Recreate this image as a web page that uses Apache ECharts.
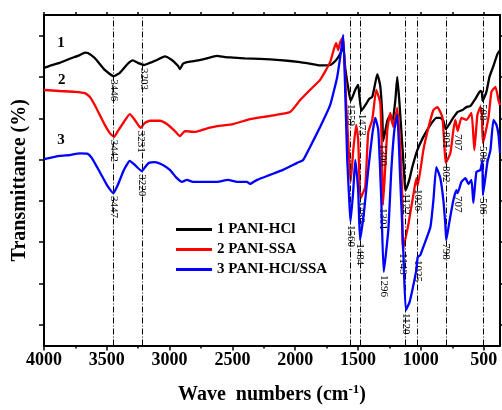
<!DOCTYPE html>
<html>
<head>
<meta charset="utf-8">
<script src="https://cdn.jsdelivr.net/npm/echarts@6/dist/echarts.min.js"></script>
<style>
  html, body { margin: 0; padding: 0; background: #fff; }
  #chart { width: 502px; height: 410px; }
</style>
</head>
<body>
<div id="chart"></div>
<script>
// FTIR spectra, [wavenumber (cm-1), transmittance (offset, a.u.)]
const curveHCl = [[4000,62.2],[3955,62.7],[3875,63.4],[3795,64.4],[3715,65.3],[3675,65.9],[3651,65.8],[3596,64.6],[3516,61.7],[3446,60.2],[3396,61.0],[3333,63.2],[3293,64.0],[3253,63.4],[3203,62.9],[3175,63.2],[3141,63.6],[3101,64.1],[3038,65.0],[2982,64.1],[2934,62.7],[2918,61.9],[2894,63.2],[2862,63.6],[2798,63.9],[2719,64.4],[2623,65.1],[2559,64.8],[2495,64.7],[2400,64.5],[2280,64.4],[2120,64.1],[1961,63.6],[1881,63.2],[1802,62.8],[1722,62.9],[1674,64.1],[1642,65.6],[1618,67.3],[1602,62.2],[1578,57.3],[1559,54.2],[1522,56.9],[1499,58.1],[1490,55.6],[1473,51.8],[1435,53.5],[1411,54.7],[1387,55.2],[1371,57.3],[1347,60.7],[1323,57.8],[1307,50.8],[1300,44.5],[1267,49.4],[1243,50.8],[1227,48.9],[1203,54.4],[1188,60.0],[1172,54.4],[1156,47.2],[1140,39.9],[1128,34.0],[1122,32.6],[1092,35.1],[1068,38.2],[1028,42.3],[980,45.5],[924,48.4],[877,50.1],[845,50.1],[821,49.4],[801,47.4],[773,48.6],[749,49.8],[709,51.5],[669,52.0],[637,52.7],[605,53.0],[566,54.7],[526,56.6],[515,56.4],[508,54.2],[478,56.4],[454,60.0],[422,62.7],[390,65.6],[370,66.5]];

const curveSSA = [[4000,56.85],[3875,56.6],[3755,56.4],[3675,56.1],[3636,55.2],[3596,53.2],[3556,50.8],[3516,48.4],[3476,46.4],[3442,45.5],[3412,46.9],[3364,49.1],[3317,51.0],[3277,49.6],[3231,47.7],[3197,48.9],[3157,49.4],[3077,49.4],[3022,48.6],[2958,46.9],[2918,45.7],[2878,46.9],[2798,46.7],[2719,47.4],[2623,48.1],[2495,48.6],[2360,49.8],[2200,50.6],[2041,51.5],[1961,54.4],[1881,56.9],[1802,59.3],[1722,63.6],[1690,67.0],[1674,68.2],[1658,66.5],[1642,68.5],[1618,69.7],[1594,53.2],[1570,39.9],[1559,34.6],[1538,42.3],[1515,48.4],[1499,44.8],[1490,36.3],[1480,30.7],[1443,33.4],[1419,46.5],[1387,49.6],[1355,56.9],[1323,53.7],[1310,41.6],[1301,29.0],[1267,47.2],[1243,51.3],[1219,47.9],[1188,52.5],[1164,43.1],[1150,32.6],[1143,18.1],[1100,24.2],[1084,27.1],[1060,31.4],[1036,35.5],[1026,33.6],[980,42.3],[940,47.7],[900,52.0],[869,52.7],[829,50.3],[812,43.1],[802,39.2],[765,41.6],[741,47.2],[725,49.6],[707,46.9],[677,50.1],[637,49.6],[597,51.3],[574,42.3],[550,50.8],[526,52.7],[515,51.3],[506,44.0],[462,50.1],[438,56.4],[406,57.6],[382,54.4],[370,53.2]];

const curveMixed = [[4000,40.1],[3875,40.9],[3795,41.1],[3715,41.5],[3651,41.4],[3620,40.4],[3556,37.0],[3500,33.9],[3447,31.9],[3412,33.9],[3364,37.5],[3317,39.7],[3277,38.7],[3220,37.2],[3195,38.2],[3165,39.2],[3117,39.4],[3054,38.7],[2998,37.5],[2942,35.5],[2902,34.6],[2862,35.1],[2814,34.6],[2719,34.6],[2623,34.6],[2535,35.1],[2463,34.6],[2384,34.6],[2360,34.1],[2304,35.1],[2200,36.3],[2097,37.5],[1985,39.2],[1937,39.9],[1881,43.1],[1802,47.9],[1722,53.2],[1690,56.9],[1666,60.0],[1642,64.8],[1618,70.2],[1602,56.4],[1586,39.9],[1570,30.2],[1560,24.9],[1538,32.6],[1522,39.9],[1499,32.6],[1484,20.5],[1451,27.8],[1419,37.5],[1387,46.0],[1363,50.1],[1339,47.2],[1315,30.2],[1296,12.8],[1259,23.0],[1235,37.5],[1211,47.2],[1188,50.8],[1164,35.1],[1140,18.1],[1120,3.6],[1092,5.3],[1068,8.4],[1036,13.3],[1025,16.4],[1004,16.9],[980,18.9],[924,23.7],[900,30.2],[877,38.2],[845,35.5],[821,30.2],[805,24.2],[798,20.5],[773,24.9],[741,30.2],[717,32.6],[707,31.9],[677,34.6],[645,35.5],[621,34.1],[597,35.1],[582,29.5],[558,37.0],[526,37.5],[510,39.9],[506,31.4],[470,39.4],[446,42.3],[422,49.6],[398,48.4],[382,46.0],[370,41.6]];

// band positions printed under each trace (cm-1)
const bandsHCl = [3446, 3203, 1559, 1473, 1300, 1122, 801, 508];
const bandsSSA = [3442, 3231, 1480, 1301, 1143, 1026, 802, 707, 506];
const bandsMixed = [3447, 3220, 1560, 1484, 1296, 1120, 1025, 798, 707, 506];

// dash-dot guide lines through the main bands
const guideLines = [3446, 3220, 1559, 1480, 1122, 1026, 801, 506];

const seriesNames = ['1 PANI-HCl', '2 PANI-SSA', '3 PANI-HCl/SSA'];
const traceTags = ['1', '2', '3'];

// axis ticks
const majorTicks = [500, 1000, 1500, 2000, 2500, 3000, 3500, 4000];
const minorTicks = [750, 1250, 1750, 2250, 2750, 3250, 3750];
const allTicks = [500, 750, 1000, 1250, 1500, 1750, 2000, 2250, 2500, 2750, 3000, 3250, 3500, 3750, 4000];
const yTicks = [0, 10, 20, 30, 40, 50, 60, 70];

const serif = '"Liberation Serif", "Times New Roman", serif';
const colors = ['#000000', '#ff0000', '#0000ff'];
const curves = [curveHCl, curveSSA, curveMixed];
const bands = [bandsHCl, bandsSSA, bandsMixed];
// where the trace numbers sit, in axis units
const tagPlace = [[3865, 68.2], [3858, 59.3], [3865, 44.7]];

// transmittance of a trace at a given wavenumber (linear between stored points)
function valueAt(curve, wn) {
  for (let i = 0; i < curve.length - 1; i++) {
    const a = curve[i], b = curve[i + 1];
    if ((a[0] - wn) * (b[0] - wn) <= 0) {
      if (a[0] === b[0]) return a[1];
      const t = (wn - a[0]) / (b[0] - a[0]);
      return a[1] + t * (b[1] - a[1]);
    }
  }
  return curve[curve.length - 1][1];
}

const series = curves.map((curve, i) => {
  const marks = bands[i].map(wn => ({
    name: String(wn),
    coord: [wn, valueAt(curve, wn)]
  }));
  marks.push({
    name: traceTags[i],
    coord: tagPlace[i],
    label: {
      position: [0, 0], rotate: 0, align: 'center', verticalAlign: 'middle',
      fontSize: 15, fontWeight: 'bold', fontFamily: serif, color: '#000'
    }
  });
  const s = {
    name: seriesNames[i],
    type: 'line',
    data: curve,
    showSymbol: false,
    symbol: 'none',
    smooth: 0.15,
    color: colors[i],
    lineStyle: { color: colors[i], width: 2.3 },
    z: 3 + i,
    markPoint: {
      silent: true,
      symbol: 'circle',
      symbolSize: 0,
      itemStyle: { color: 'rgba(0,0,0,0)' },
      label: {
        show: true,
        formatter: '{b}',
        position: [0, 3],
        rotate: -90,
        align: 'left',
        verticalAlign: 'middle',
        fontSize: 11,
        fontFamily: serif,
        color: '#000'
      },
      data: marks
    }
  };
  if (i === 0) {
    s.markLine = {
      silent: true,
      symbol: ['none', 'none'],
      label: { show: false },
      lineStyle: { color: '#000', width: 1, type: [6, 2, 1, 2] },
      data: guideLines.map(wn => ({ xAxis: wn }))
    };
  }
  return s;
});

const xRange = { min: 370, max: 4000, inverse: true };

const option = {
  animation: false,
  backgroundColor: '#fff',
  grid: { left: 44, right: 2, top: 15, bottom: 64.5, containLabel: false, outerBoundsMode: 'none' },
  legend: {
    data: seriesNames,
    orient: 'vertical',
    left: 171,
    top: 217,
    icon: 'rect',
    itemWidth: 36,
    itemHeight: 3,
    itemGap: 5,
    textStyle: { fontFamily: serif, fontWeight: 'bold', fontSize: 15, color: '#000', lineHeight: 15 }
  },
  xAxis: [
    Object.assign({
      type: 'value', position: 'bottom',
      axisLine: { show: true, onZero: false, lineStyle: { color: '#000', width: 2 } },
      axisTick: { show: true, inside: false, length: 5, lineStyle: { color: '#000', width: 1.5 }, customValues: majorTicks },
      axisLabel: {
        customValues: majorTicks, formatter: v => String(v),
        fontFamily: serif, fontWeight: 'bold', fontSize: 18, color: '#000', margin: 6
      },
      splitLine: { show: false },
      name: 'Wave  numbers (cm{sup|-1})',
      nameLocation: 'middle',
      nameGap: 38,
      nameTextStyle: {
        fontFamily: serif, fontWeight: 'bold', fontSize: 20, color: '#000',
        rich: { sup: { fontFamily: serif, fontWeight: 'bold', fontSize: 13, color: '#000', padding: [0, 0, 10, 0] } }
      }
    }, xRange),
    Object.assign({
      type: 'value', position: 'bottom',
      axisLine: { show: false, onZero: false },
      axisTick: { show: true, inside: false, length: 3, lineStyle: { color: '#000', width: 1.5 }, customValues: minorTicks },
      axisLabel: { show: false },
      splitLine: { show: false }
    }, xRange),
    Object.assign({
      type: 'value', position: 'top',
      axisLine: { show: true, onZero: false, lineStyle: { color: '#000', width: 2 } },
      axisTick: { show: true, inside: false, length: 3, lineStyle: { color: '#000', width: 1.5 }, customValues: allTicks },
      axisLabel: { show: false },
      splitLine: { show: false }
    }, xRange)
  ],
  yAxis: [
    {
      type: 'value', position: 'left', min: -5, max: 75,
      axisLine: { show: true, onZero: false, lineStyle: { color: '#000', width: 2 } },
      axisTick: { show: true, inside: false, length: 5, lineStyle: { color: '#000', width: 1.5 }, customValues: yTicks },
      axisLabel: { show: false },
      splitLine: { show: false },
      name: 'Transmittance (%)',
      nameLocation: 'middle',
      nameGap: 14,
      nameTextStyle: { fontFamily: serif, fontWeight: 'bold', fontSize: 20, color: '#000' }
    },
    {
      type: 'value', position: 'right', min: -5, max: 75,
      axisLine: { show: true, onZero: false, lineStyle: { color: '#000', width: 2 } },
      axisTick: { show: true, inside: false, length: 4, lineStyle: { color: '#000', width: 1.5 }, customValues: yTicks },
      axisLabel: { show: false },
      splitLine: { show: false }
    }
  ],
  series: series
};

const chart = echarts.init(document.getElementById('chart'), null, { renderer: 'canvas' });
chart.setOption(option);
</script>
</body>
</html>
